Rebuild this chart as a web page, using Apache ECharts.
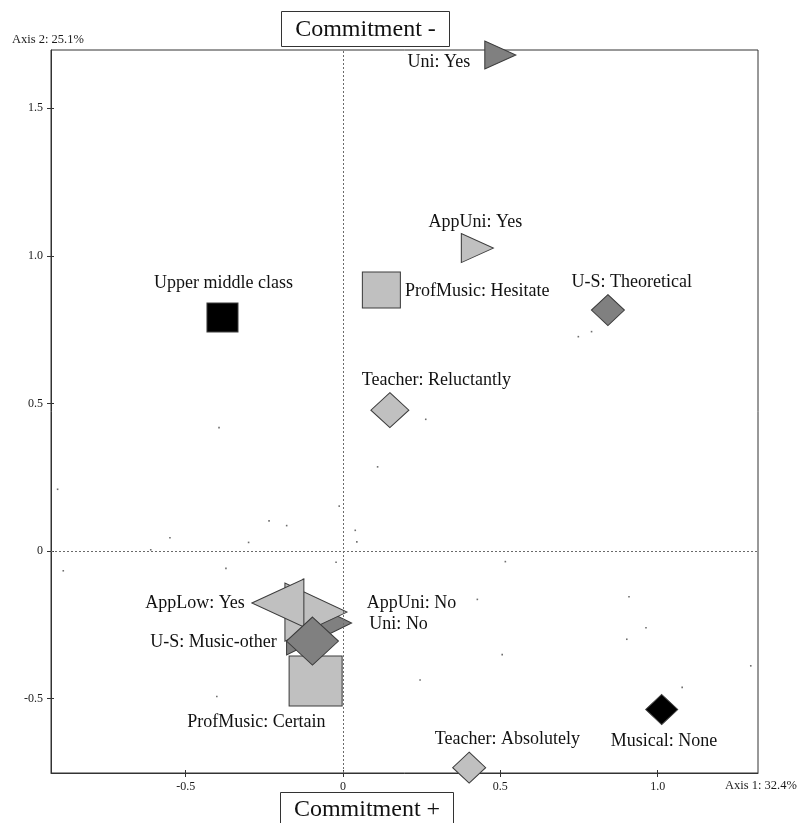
<!DOCTYPE html>
<html>
<head>
<meta charset="utf-8">
<title>Commitment – correspondence map</title>
<script src="https://cdn.jsdelivr.net/npm/echarts@6/dist/echarts.min.js"></script>
<style>
  html, body { margin: 0; padding: 0; background: #fff; }
  #chart { width: 798px; height: 823px; }
</style>
</head>
<body>
<div id="chart"></div>
<script>
// Category coordinates on the first two axes (drawn back to front)
const categories = [
  'Uni: Yes', 'AppUni: Yes', 'ProfMusic: Hesitate', 'U-S: Theoretical',
  'Teacher: Reluctantly', 'Upper middle class', 'Musical: None', 'Teacher: Absolutely',
  'Uni: No', 'AppUni: No', 'AppLow: Yes', 'ProfMusic: Certain', 'U-S: Music-other'
];
const axis1 = [0.500, 0.427, 0.122, 0.842, 0.149, -0.383, 1.013, 0.401, -0.076, -0.086, -0.207, -0.087, -0.097];
const axis2 = [1.680, 1.026, 0.884, 0.816, 0.477, 0.791, -0.537, -0.734, -0.244, -0.207, -0.176, -0.440, -0.305];

// Individual observations (cloud of points)
const cloudX = [-0.394, -0.907, -0.012, -0.235, -0.179, -0.550, -0.300, 0.039, 0.044, 0.110, -0.611, -0.022, -0.889, -0.372,
                -0.126, 0.263, 0.516, 0.427, 0.909, 0.963, 0.902, 0.506, 0.245, 1.296, 1.078, 0.748, 0.790, -0.401];
const cloudY = [0.418, 0.209, 0.152, 0.102, 0.086, 0.045, 0.029, 0.070, 0.031, 0.285, 0.004, -0.038, -0.067, -0.059,
                -0.096, 0.446, -0.036, -0.164, -0.155, -0.260, -0.299, -0.351, -0.437, -0.389, -0.462, 0.726, 0.743, -0.493];

// Axis ticks
const xTicks = [-0.5, 0, 0.5, 1.0];
const yTicks = [-0.5, 0, 0.5, 1.0, 1.5];
const axis1Name = 'Axis 1: 32.4%';
const axis2Name = 'Axis 2: 25.1%';
const topTitle = 'Commitment -';
const bottomTitle = 'Commitment +';

// ---- presentation ----
const LIGHT = '#c0c0c0', DARK = '#808080', BLACK = '#000000';
const FONT = '"Liberation Serif", "Times New Roman", serif';

const markerStyle = {
  'Uni: Yes':             { shape: 'triangle', dir: 'right', fill: DARK,  w: 31, h: 28 },
  'AppUni: Yes':          { shape: 'triangle', dir: 'right', fill: LIGHT, w: 32, h: 29 },
  'ProfMusic: Hesitate':  { shape: 'rect',    fill: LIGHT, w: 38, h: 36 },
  'U-S: Theoretical':     { shape: 'diamond', fill: DARK,  w: 33, h: 31 },
  'Teacher: Reluctantly': { shape: 'diamond', fill: LIGHT, w: 38, h: 35 },
  'Upper middle class':   { shape: 'rect',    fill: BLACK, w: 31, h: 29 },
  'Musical: None':        { shape: 'diamond', fill: BLACK, w: 32, h: 30 },
  'Teacher: Absolutely':  { shape: 'diamond', fill: LIGHT, w: 33, h: 31 },
  'Uni: No':              { shape: 'triangle', dir: 'right', fill: DARK,  w: 65, h: 64 },
  'AppUni: No':           { shape: 'triangle', dir: 'right', fill: LIGHT, w: 62, h: 58 },
  'AppLow: Yes':          { shape: 'triangle', dir: 'left',  fill: LIGHT, w: 52, h: 48 },
  'ProfMusic: Certain':   { shape: 'rect',    fill: LIGHT, w: 53, h: 50 },
  'U-S: Music-other':     { shape: 'diamond', fill: DARK,  w: 52, h: 48 }
};

const labelPlace = {
  'Uni: Yes':             { align: 'right',  dx: -30,   dy: 7.5 },
  'AppUni: Yes':          { align: 'center', dx: -2,    dy: -25.5 },
  'ProfMusic: Hesitate':  { align: 'left',   dx: 23.7,  dy: 1.7 },
  'U-S: Theoretical':     { align: 'left',   dx: -36.3, dy: -27.5 },
  'Teacher: Reluctantly': { align: 'left',   dx: -28,   dy: -29.7 },
  'Upper middle class':   { align: 'center', dx: 1,     dy: -34.5 },
  'Musical: None':        { align: 'center', dx: 2.3,   dy: 32 },
  'Teacher: Absolutely':  { align: 'left',   dx: -34.3, dy: -28.4 },
  'Uni: No':              { align: 'left',   dx: 50.3,  dy: 0.8 },
  'AppUni: No':           { align: 'left',   dx: 50.7,  dy: -8.5 },
  'AppLow: Yes':          { align: 'right',  dx: -33,   dy: 0.8 },
  'ProfMusic: Certain':   { align: 'right',  dx: 10,    dy: 41 },
  'U-S: Music-other':     { align: 'right',  dx: -35.8, dy: 1.2 }
};

const markerData = categories.map((name, i) => {
  const s = markerStyle[name];
  const item = {
    name: name,
    value: [axis1[i], axis2[i]],
    symbol: s.shape,
    symbolSize: [s.w, s.h],
    itemStyle: { color: s.fill }
  };
  if (s.shape === 'triangle') {
    // triangle points up by default; turn it sideways (base becomes vertical)
    item.symbolSize = [s.h, s.w];
    item.symbolRotate = s.dir === 'right' ? -90 : 90;
  }
  return item;
});

const labelData = categories.map((name, i) => {
  const p = labelPlace[name];
  return {
    name: name,
    value: [axis1[i], axis2[i]],
    label: { align: p.align, offset: [p.dx, p.dy] }
  };
});

const cloudData = cloudX.map((x, i) => [x, cloudY[i]]);

const X_MIN = -0.928, X_MAX = 1.319, Y_MIN = -0.752, Y_MAX = 1.697;
const fmt = v => (v === 0 ? '0' : v.toFixed(1));
const axisColor = '#333333';

const chart = echarts.init(document.getElementById('chart'), null, { renderer: 'canvas' });
chart.setOption({
  animation: false,
  backgroundColor: '#ffffff',
  grid: {
    left: 51, right: 40, top: 50, bottom: 50,
    show: true, borderColor: axisColor, borderWidth: 1, backgroundColor: 'transparent'
  },
  xAxis: [
    {
      type: 'value', min: X_MIN, max: X_MAX, position: 'bottom',
      axisLine: { show: true, onZero: false, lineStyle: { color: axisColor, width: 1 } },
      axisTick: { show: true, length: 4, customValues: xTicks, lineStyle: { color: axisColor } },
      axisLabel: { customValues: xTicks, formatter: fmt, margin: 8, fontFamily: FONT, fontSize: 12, color: '#1a1a1a' },
      splitLine: { show: false }
    },
    {
      type: 'value', min: X_MIN, max: X_MAX, position: 'bottom',
      axisLine: { show: false, onZero: false },
      axisTick: { show: true, inside: true, length: 3, customValues: xTicks, lineStyle: { color: axisColor } },
      axisLabel: { show: false },
      splitLine: { show: false }
    }
  ],
  yAxis: [
    {
      type: 'value', min: Y_MIN, max: Y_MAX, position: 'left',
      axisLine: { show: true, onZero: false, lineStyle: { color: axisColor, width: 1 } },
      axisTick: { show: true, length: 4, customValues: yTicks, lineStyle: { color: axisColor } },
      axisLabel: { customValues: yTicks, formatter: fmt, margin: 8, fontFamily: FONT, fontSize: 12, color: '#1a1a1a' },
      splitLine: { show: false }
    },
    {
      type: 'value', min: Y_MIN, max: Y_MAX, position: 'left',
      axisLine: { show: false, onZero: false },
      axisTick: { show: true, inside: true, length: 3, customValues: yTicks, lineStyle: { color: axisColor } },
      axisLabel: { show: false },
      splitLine: { show: false }
    }
  ],
  series: [
    {
      name: 'observations',
      type: 'scatter',
      xAxisIndex: 0, yAxisIndex: 0,
      data: cloudData,
      symbol: 'rect',
      symbolSize: 1.6,
      itemStyle: { color: '#6e6e6e', opacity: 1 },
      silent: true,
      z: 1
    },
    {
      name: 'categories',
      type: 'scatter',
      xAxisIndex: 0, yAxisIndex: 0,
      data: markerData,
      clip: false,
      itemStyle: { borderColor: '#3c3c3c', borderWidth: 1, opacity: 1 },
      label: { show: false },
      silent: true,
      z: 2
    },
    {
      name: 'origin lines',
      type: 'scatter',
      xAxisIndex: 0, yAxisIndex: 0,
      data: [],
      z: 4,
      markLine: {
        silent: true,
        symbol: ['none', 'none'],
        label: { show: false },
        lineStyle: { color: '#6a6a6a', width: 1, type: [2, 2], opacity: 1 },
        data: [{ xAxis: 0 }, { yAxis: 0 }]
      }
    },
    {
      name: 'labels',
      type: 'scatter',
      xAxisIndex: 0, yAxisIndex: 0,
      data: labelData,
      clip: false,
      symbol: 'circle',
      symbolSize: 1,
      itemStyle: { color: 'rgba(0,0,0,0)', opacity: 1 },
      label: {
        show: true,
        position: 'inside',
        verticalAlign: 'middle',
        formatter: '{b}',
        fontFamily: FONT,
        fontSize: 18,
        color: '#111111'
      },
      silent: true,
      z: 5
    }
  ],
  graphic: [
    {
      type: 'group', left: 281, top: 11,
      children: [
        { type: 'rect', shape: { x: 0, y: 0, width: 168, height: 35 },
          style: { fill: '#fff', stroke: '#333', lineWidth: 1 } },
        { type: 'text', x: 84, y: 18,
          style: { text: topTitle, font: '24px ' + FONT, fill: '#111', align: 'center', verticalAlign: 'middle' } }
      ]
    },
    {
      type: 'group', left: 280, top: 792,
      children: [
        { type: 'rect', shape: { x: 0, y: 0, width: 173, height: 36 },
          style: { fill: '#fff', stroke: '#333', lineWidth: 1 } },
        { type: 'text', x: 86.5, y: 17.5,
          style: { text: bottomTitle, font: '24px ' + FONT, fill: '#111', align: 'center', verticalAlign: 'middle' } }
      ]
    },
    {
      type: 'text', left: 12, top: 33,
      style: { text: axis2Name, font: '12.5px ' + FONT, fill: '#1a1a1a' }
    },
    {
      type: 'text', left: 725, top: 779,
      style: { text: axis1Name, font: '12.5px ' + FONT, fill: '#1a1a1a' }
    }
  ]
});
</script>
</body>
</html>
